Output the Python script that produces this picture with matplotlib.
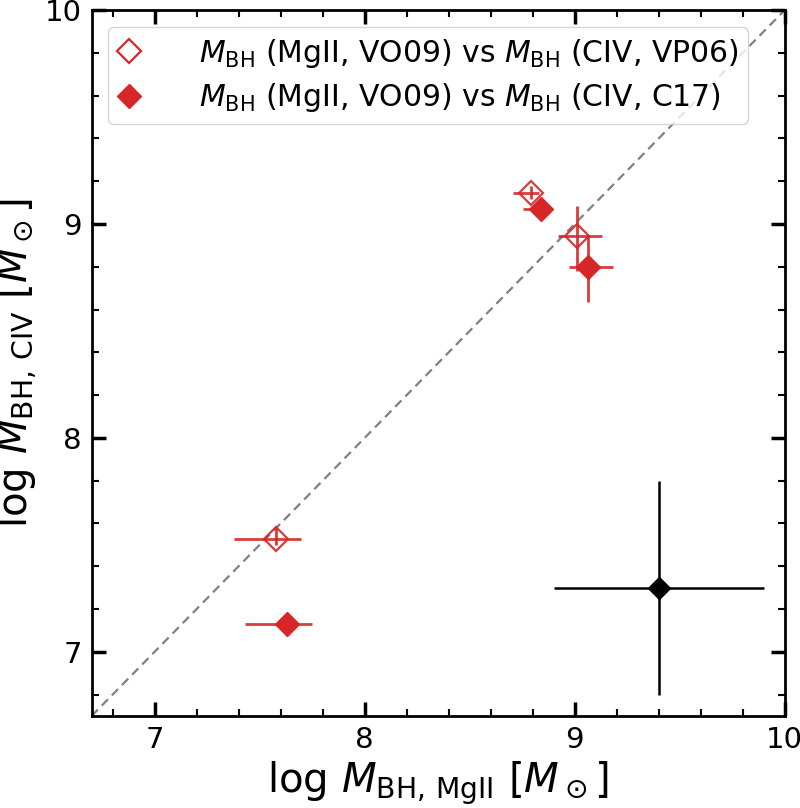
import numpy as np
import matplotlib
matplotlib.use("Agg")
import matplotlib.pyplot as plt
from matplotlib.lines import Line2D
from matplotlib.ticker import MultipleLocator

# MgII (VO09) vs CIV (VP06) -- open diamonds
mg_vp = [8.79, 9.01, 7.58]
mg_vp_lo = [0.086, 0.09, 0.20]
mg_vp_hi = [0.04, 0.12, 0.115]
civ_vp = [9.146, 8.945, 7.528]
civ_vp_lo = [0.03, 0.165, 0.028]
civ_vp_hi = [0.03, 0.139, 0.05]

# MgII (VO09) vs CIV (C17) -- filled diamonds
mg_c17 = [8.839, 9.065, 7.629]
mg_c17_lo = [0.083, 0.09, 0.198]
mg_c17_hi = [0.04, 0.116, 0.119]
civ_c17 = [9.069, 8.80, 7.131]
civ_c17_lo = [0.02, 0.166, 0.02]
civ_c17_hi = [0.02, 0.15, 0.02]

# typical uncertainty
typ_x, typ_y, typ_err = 9.4, 7.3, 0.5

red = '#d62728'
lab_vp = r'$M_{\rm BH}$ (MgII, VO09) vs $M_{\rm BH}$ (CIV, VP06)'
lab_c17 = r'$M_{\rm BH}$ (MgII, VO09) vs $M_{\rm BH}$ (CIV, C17)'

fig = plt.figure(figsize=(8, 8.08), dpi=100)
ax = fig.add_axes([0.1145, 0.1139, 0.8665, 0.8737])

ax.plot([6.7, 10], [6.7, 10], ls='--', color='gray', lw=1.6, dashes=(4, 2.5), zorder=1)

ax.errorbar(mg_vp, civ_vp, xerr=[mg_vp_lo, mg_vp_hi], yerr=[civ_vp_lo, civ_vp_hi],
            fmt='D', ms=12, mfc='none', mec=red, mew=1.6, ecolor=red, elinewidth=2,
            capsize=0, alpha=0.9, zorder=3)
ax.errorbar(mg_c17, civ_c17, xerr=[mg_c17_lo, mg_c17_hi], yerr=[civ_c17_lo, civ_c17_hi],
            fmt='none', ecolor=red, elinewidth=2, capsize=0, alpha=0.9, zorder=4)
ax.plot(mg_c17, civ_c17, ls='none', marker='D', ms=12, mfc=red, mec=red, zorder=5)
ax.errorbar([typ_x], [typ_y], xerr=typ_err, yerr=typ_err, fmt='D', ms=11,
            color='black', elinewidth=1.8, capsize=0, zorder=5)

ax.set_xlim(6.7, 10)
ax.set_ylim(6.7, 10)
ax.xaxis.set_major_locator(MultipleLocator(1))
ax.yaxis.set_major_locator(MultipleLocator(1))
ax.xaxis.set_minor_locator(MultipleLocator(0.2))
ax.yaxis.set_minor_locator(MultipleLocator(0.2))
ax.tick_params(which='both', direction='in', top=True, right=True, labelsize=21)
ax.tick_params(which='major', length=10, width=2.5, pad=7)
ax.tick_params(which='minor', length=5, width=1.5)
for s in ax.spines.values():
    s.set_linewidth(2)

ax.set_xlabel(r'log $M_{\rm BH,\,MgII}$ [$M_\odot$]', fontsize=29)
ax.set_ylabel(r'log $M_{\rm BH,\,CIV}$ [$M_\odot$]', fontsize=29)

handles = [Line2D([], [], ls='none', marker='D', ms=12, mfc='none', mec=red, mew=1.6),
           Line2D([], [], ls='none', marker='D', ms=12, mfc=red, mec=red)]
ax.legend(handles, [lab_vp, lab_c17], loc='upper left', fontsize=21.5,
          handlelength=0.76, handletextpad=1.95, borderpad=0.32, labelspacing=0.4,
          borderaxespad=0, bbox_to_anchor=(0.0237, 0.976))

fig.savefig('out.png', dpi=100)
